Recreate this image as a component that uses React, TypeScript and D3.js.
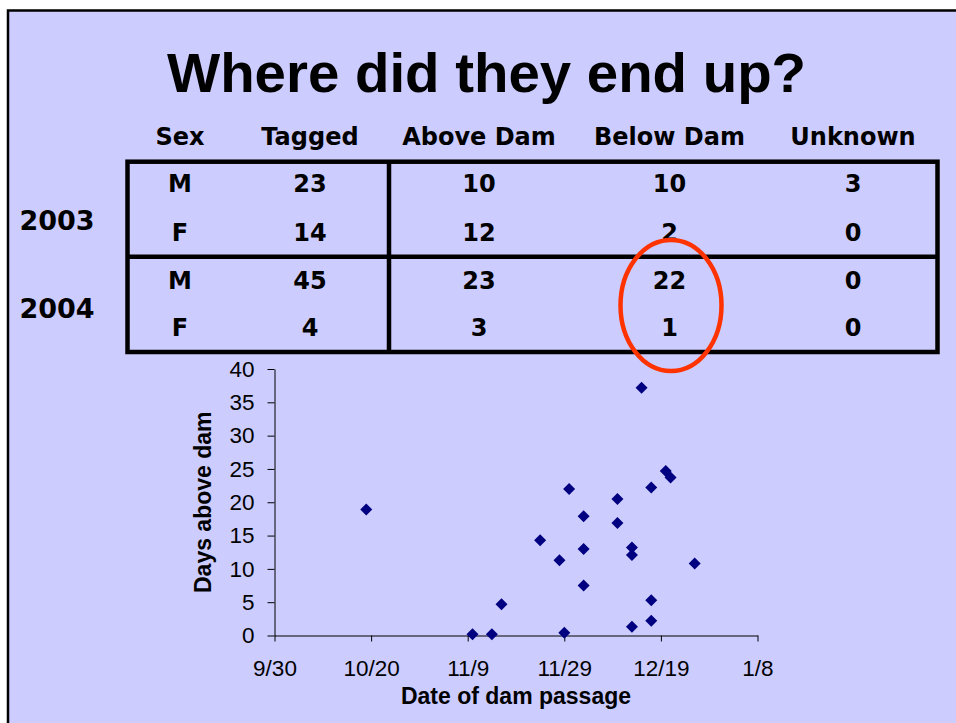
import { useEffect, useMemo, useRef } from "react";
import {
  scaleLinear,
  scaleUtc,
  axisBottom,
  axisLeft,
  select,
  symbol,
  symbolSquare,
  utcDay,
  utcFormat,
} from "d3";

// Table values
const tableHeaders = ["Sex", "Tagged", "Above Dam", "Below Dam", "Unknown"];
const years = ["2003", "2004"];
const sexes = ["M", "F", "M", "F"];
const tagged = [23, 14, 45, 4];
const aboveDam = [10, 12, 23, 3];
const belowDam = [10, 2, 22, 1];
const unknown = [3, 0, 0, 0];

// Scatter values: date of dam passage vs days above dam
const passDates = [
  "10/19", "11/10", "11/14", "11/16", "11/24", "11/28", "11/29", "11/30",
  "12/3", "12/3", "12/3", "12/10", "12/10", "12/13", "12/13", "12/13",
  "12/15", "12/17", "12/17", "12/17", "12/20", "12/21", "12/26",
];
const daysAbove = [
  18.9, 0.2, 0.2, 4.7, 14.3, 11.3, 0.4, 22.0,
  17.9, 13.0, 7.5, 20.5, 16.9, 13.2, 12.1, 1.3,
  37.2, 22.2, 5.3, 2.2, 24.7, 23.7, 10.8,
];
const xStart = "9/30";
const xEnd = "1/8";
const yMax = 40;

function parseMD(s: string) {
  const [m, d] = s.split("/").map(Number);
  // season runs Sep 2004 -> Jan 2005
  return new Date(Date.UTC(m >= 9 ? 2004 : 2005, m - 1, d));
}

const W = 956;
const H = 723;
const BG = "#CCCCFF";
const PLOT = { left: 274.5, right: 757.5, top: 369, bottom: 635.5 };
const COLS = [180, 310, 479, 669.5, 853];
const ROW_BASE = [192, 240.5, 288.5, 335.5];
const TABLE = { left: 127.5, right: 937.5, top: 161.7, mid: 256.7, bottom: 352, split: 389 };
const ARIAL = "'Liberation Sans', Arial, sans-serif";
const VERDANA = "'DejaVu Sans', Verdana, sans-serif";

export default function App() {
  const xAxisRef = useRef<SVGGElement>(null);
  const yAxisRef = useRef<SVGGElement>(null);

  const scales = useMemo(() => {
    const x = scaleUtc()
      .domain([parseMD(xStart), parseMD(xEnd)])
      .range([PLOT.left, PLOT.right]);
    const y = scaleLinear().domain([0, yMax]).range([PLOT.bottom, PLOT.top]);
    return { x, y };
  }, []);

  useEffect(() => {
    if (!xAxisRef.current || !yAxisRef.current) return;
    const [d0, d1] = scales.x.domain();
    const xTicks = utcDay.range(d0, utcDay.offset(d1, 1), 20);

    const gx = select(xAxisRef.current);
    gx.attr("transform", `translate(0,${PLOT.bottom})`).call(
      axisBottom(scales.x)
        .tickValues(xTicks)
        .tickFormat(utcFormat("%-m/%-d") as any)
        .tickSize(6)
        .tickSizeOuter(0)
        .tickPadding(19)
    );

    const gy = select(yAxisRef.current);
    gy.attr("transform", `translate(${PLOT.left},0)`).call(
      axisLeft(scales.y).ticks(8).tickSize(7).tickSizeOuter(0).tickPadding(13)
    );

    for (const g of [gx, gy]) {
      g.attr("font-family", ARIAL).attr("font-size", 22.5);
      g.selectAll("path, line").attr("stroke", "#000").attr("stroke-width", 1);
      g.selectAll("text").attr("fill", "#000");
    }
  }, [scales]);

  const diamond = symbol().type(symbolSquare).size(72)() ?? "";

  return (
    <svg
      width={W}
      height={H}
      style={{ position: "absolute", left: 0, top: 0, display: "block" }}
    >
      <rect x={0} y={0} width={W} height={H} fill="#fff" />
      <rect x={8} y={10.5} width={W + 20} height={H + 20} fill={BG} stroke="#000" strokeWidth={2.5} />

      <text
        x={486.5}
        y={92}
        textAnchor="middle"
        fontFamily={ARIAL}
        fontWeight="bold"
        fontSize={56.4}
      >
        Where did they end up?
      </text>

      {/* table */}
      <g fontFamily={VERDANA} fontWeight="bold" textAnchor="middle" fill="#000">
        {tableHeaders.map((h, i) => (
          <text key={h} x={COLS[i]} y={145} fontSize={24}>
            {h}
          </text>
        ))}
        {sexes.map((s, r) => {
          const vals = [s, tagged[r], aboveDam[r], belowDam[r], unknown[r]];
          return vals.map((v, c) => (
            <text key={`${r}-${c}`} x={COLS[c]} y={ROW_BASE[r]} fontSize={24}>
              {v}
            </text>
          ));
        })}
        {years.map((yr, i) => (
          <text key={yr} x={57} y={i === 0 ? 229.5 : 318} fontSize={27}>
            {yr}
          </text>
        ))}
      </g>
      <g stroke="#000" strokeWidth={4.5} fill="none">
        <rect
          x={TABLE.left}
          y={TABLE.top}
          width={TABLE.right - TABLE.left}
          height={TABLE.bottom - TABLE.top}
        />
        <line x1={TABLE.left} x2={TABLE.right} y1={TABLE.mid} y2={TABLE.mid} />
        <line x1={TABLE.split} x2={TABLE.split} y1={TABLE.top} y2={TABLE.bottom} />
      </g>

      {/* scatter */}
      <g ref={xAxisRef} />
      <g ref={yAxisRef} />
      <g fill="#000080">
        {passDates.map((d, i) => (
          <path
            key={i}
            d={diamond}
            transform={`translate(${scales.x(parseMD(d))},${scales.y(daysAbove[i])}) rotate(45)`}
          />
        ))}
      </g>
      <text
        x={(PLOT.left + PLOT.right) / 2}
        y={704}
        textAnchor="middle"
        fontFamily={ARIAL}
        fontWeight="bold"
        fontSize={23}
      >
        Date of dam passage
      </text>
      <text
        transform={`translate(211,${(PLOT.top + PLOT.bottom) / 2}) rotate(-90)`}
        textAnchor="middle"
        fontFamily={ARIAL}
        fontWeight="bold"
        fontSize={23}
      >
        Days above dam
      </text>

      {/* highlight */}
      <ellipse cx={671} cy={305.5} rx={50.5} ry={65.5} fill="none" stroke="#FF3300" strokeWidth={4.5} />
    </svg>
  );
}
